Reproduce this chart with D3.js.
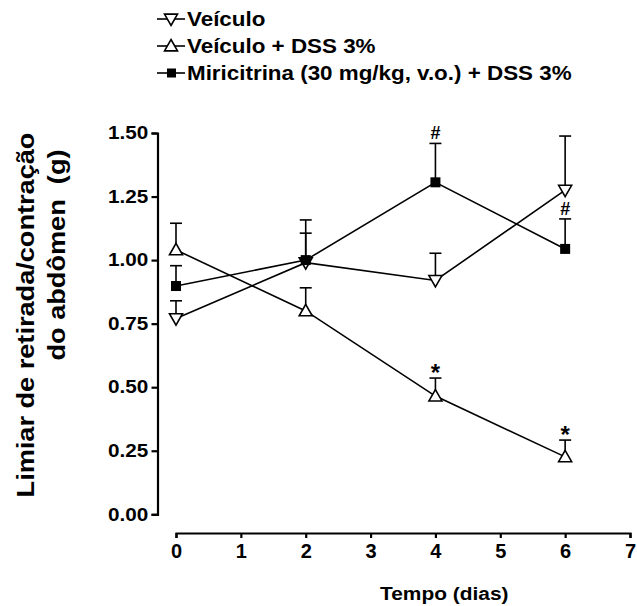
<!DOCTYPE html>
<html>
<head>
<meta charset="utf-8">
<script src="https://cdn.jsdelivr.net/npm/d3@7"></script>
<style>
  html, body { margin: 0; padding: 0; background: #fff; }
  svg { display: block; }
  text { font-family: "Liberation Sans", Arial, sans-serif; font-weight: bold; fill: #000; }
</style>
</head>
<body>
<svg id="chart" width="637" height="606"></svg>
<script>
// ---- data ----
const days = [0, 2, 4, 6];
const xTicks = [0, 1, 2, 3, 4, 5, 6, 7];
const yTicks = [0, 0.25, 0.5, 0.75, 1.0, 1.25, 1.5];
const seriesNames = ["Veículo", "Veículo + DSS 3%", "Miricitrina (30 mg/kg, v.o.) + DSS 3%"];
const veiculo = [0.77, 0.99, 0.92, 1.275];
const veiculoErr = [0.07, 0.168, 0.107, 0.213];
const dss = [1.04, 0.80, 0.465, 0.226];
const dssErr = [0.105, 0.091, 0.071, 0.066];
const miri = [0.898, 1.0, 1.306, 1.044];
const miriErr = [0.08, 0.106, 0.153, 0.118];
const dssMarks = ["", "", "*", "*"];
const miriMarks = ["", "", "#", "#"];
const xTitle = "Tempo (dias)";
const yTitle1 = "Limiar de retirada/contração";
const yTitle2 = "do abdômen  (g)";

const svg = d3.select("#chart");
const x = d3.scaleLinear().domain([0, 7]).range([176, 630]);
const y = d3.scaleLinear().domain([0, 1.5]).range([514.3, 133]);

// axes
const yAxis = svg.append("g").attr("transform", "translate(157.5,0)")
  .call(d3.axisLeft(y).tickValues(yTicks).tickFormat(d3.format(".2f")).tickSize(6).tickPadding(2));
const xAxis = svg.append("g").attr("transform", "translate(0,533)")
  .call(d3.axisBottom(x).tickValues(xTicks).tickFormat(d3.format("d")).tickSize(5).tickPadding(6));
[yAxis, xAxis].forEach(g => {
  g.select(".domain").attr("stroke", "#000").attr("stroke-width", 2.2);
  g.selectAll(".tick line").attr("stroke", "#000").attr("stroke-width", 2.2);
  g.selectAll(".tick text").attr("fill", "#000")
    .style("font-family", "'Liberation Sans', Arial, sans-serif").style("font-weight", "bold");
});
yAxis.selectAll(".tick text").style("font-size", "18px").attr("transform", "scale(1.15,1)");
xAxis.selectAll(".tick text").style("font-size", "20px");

// titles
svg.append("text").attr("transform", "translate(380,600) scale(1.1,1)")
  .style("font-size", "19px").text(xTitle);
svg.append("text").attr("transform", "translate(34,315) rotate(-90) scale(1.18,1)").attr("text-anchor", "middle")
  .style("font-size", "23px").text(yTitle1);
svg.append("text").attr("transform", "translate(65,255) rotate(-90) scale(1.18,1)").attr("text-anchor", "middle")
  .style("font-size", "23px").style("white-space", "pre").text(yTitle2);

const series = [
  { vals: veiculo, err: veiculoErr, marker: "down", marks: null },
  { vals: dss, err: dssErr, marker: "up", marks: dssMarks },
  { vals: miri, err: miriErr, marker: "square", marks: miriMarks }
];

const line = d3.line().x((d, i) => x(days[i])).y(d => y(d));

function drawMarker(g, kind, cx, cy) {
  if (kind === "square") {
    g.append("rect").attr("x", cx - 5).attr("y", cy - 5).attr("width", 10).attr("height", 10)
      .attr("fill", "#000");
  } else if (kind === "up") {
    const s = 6.5;
    g.append("path").attr("d", `M${cx},${cy - s}L${cx + s},${cy + s * 0.75}L${cx - s},${cy + s * 0.75}Z`)
      .attr("fill", "#fff").attr("stroke", "#000").attr("stroke-width", 1.6);
  } else {
    const s = 6.5;
    g.append("path").attr("d", `M${cx},${cy + s}L${cx + s},${cy - s * 0.75}L${cx - s},${cy - s * 0.75}Z`)
      .attr("fill", "#fff").attr("stroke", "#000").attr("stroke-width", 1.6);
  }
}

// error bars
series.forEach(s => {
  const g = svg.append("g");
  s.vals.forEach((v, i) => {
    const cx = x(days[i]), top = y(v + s.err[i]);
    g.append("line").attr("x1", cx).attr("x2", cx).attr("y1", y(v)).attr("y2", top)
      .attr("stroke", "#000").attr("stroke-width", 1.6);
    g.append("line").attr("x1", cx - 6).attr("x2", cx + 6).attr("y1", top).attr("y2", top)
      .attr("stroke", "#000").attr("stroke-width", 1.6);
    if (s.marks && s.marks[i]) {
      const star = s.marks[i] === "*";
      g.append("text").attr("x", cx).attr("y", star ? top + 3 : top - 4).attr("text-anchor", "middle")
        .style("font-size", star ? "24px" : "18px")
        .text(s.marks[i]);
    }
  });
});
// lines
series.forEach(s => {
  svg.append("path").datum(s.vals).attr("d", line).attr("fill", "none")
    .attr("stroke", "#000").attr("stroke-width", 1.6);
});
// markers
series.forEach(s => {
  const g = svg.append("g");
  s.vals.forEach((v, i) => drawMarker(g, s.marker, x(days[i]), y(v)));
});

// legend
const legendY = [19, 46, 73];
series.forEach((s, i) => {
  const g = svg.append("g");
  g.append("line").attr("x1", 157).attr("x2", 185).attr("y1", legendY[i]).attr("y2", legendY[i])
    .attr("stroke", "#000").attr("stroke-width", 1.6);
  const m = g.append("g");
  if (s.marker === "square") {
    m.append("rect").attr("x", 167).attr("y", legendY[i] - 4.5).attr("width", 9).attr("height", 9).attr("fill", "#000");
  } else {
    drawMarker(m, s.marker, 171, legendY[i]);
  }
  g.append("text").attr("transform", `translate(187,${legendY[i] + 7}) scale(1.12,1)`)
    .style("font-size", "20px").text(seriesNames[i]);
});
</script>
</body>
</html>
